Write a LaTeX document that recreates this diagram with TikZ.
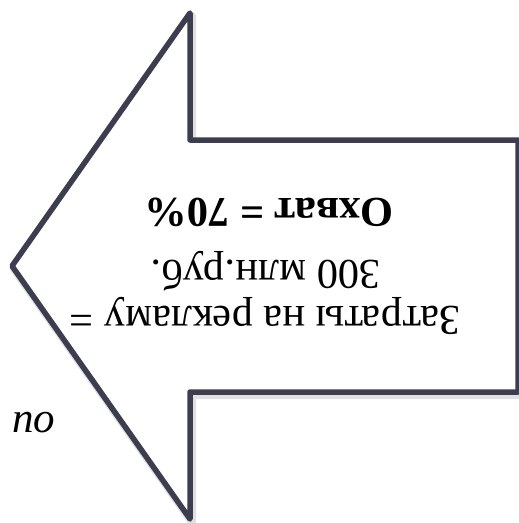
\documentclass[tikz,border=0pt]{standalone}
\usepackage{fontspec}
\setmainfont{Liberation Serif}
\definecolor{arrowline}{HTML}{3C3D4E}
\begin{document}
\begin{tikzpicture}[x=1pt,y=-1pt,
  txt/.style={font=\fontsize{42.5}{48}\selectfont, inner sep=0pt, rotate=180, anchor=base},
  outline/.style={arrowline, line width=5.5pt, line join=round}]
\useasboundingbox (0,0) rectangle (519,523);
\coordinate (tip) at (12,266);
\coordinate (ht) at (190,13);
\coordinate (st) at (190,140);
\coordinate (rt) at (518,140);
\coordinate (rb) at (518,392);
\coordinate (sb) at (190,392);
\coordinate (hb) at (190,519);
\begin{scope}[shift={(2,3)}]
\draw[black, opacity=0.12, line width=8pt, line join=round] (12,266) -- (190,13) -- (190,140) -- (518,140) -- (518,392) -- (190,392) -- (190,519) -- cycle;
\end{scope}
\draw[outline, fill=white] (tip) -- (ht) -- (st) -- (rt) -- (rb) -- (sb) -- (hb) -- cycle;
\node[txt] (l1) at (265,306) {Затраты на рекламу =};
\node[txt] (l2) at (266,260) {300 млн.руб.};
\node[txt, font=\fontsize{42.5}{48}\selectfont\bfseries] (l3) at (269,198) {Охват = 70\%};
\node[font=\fontsize{43}{48}\selectfont\itshape, anchor=base west, inner sep=0pt] (po) at (12,432) {по};
\end{tikzpicture}
\end{document}
